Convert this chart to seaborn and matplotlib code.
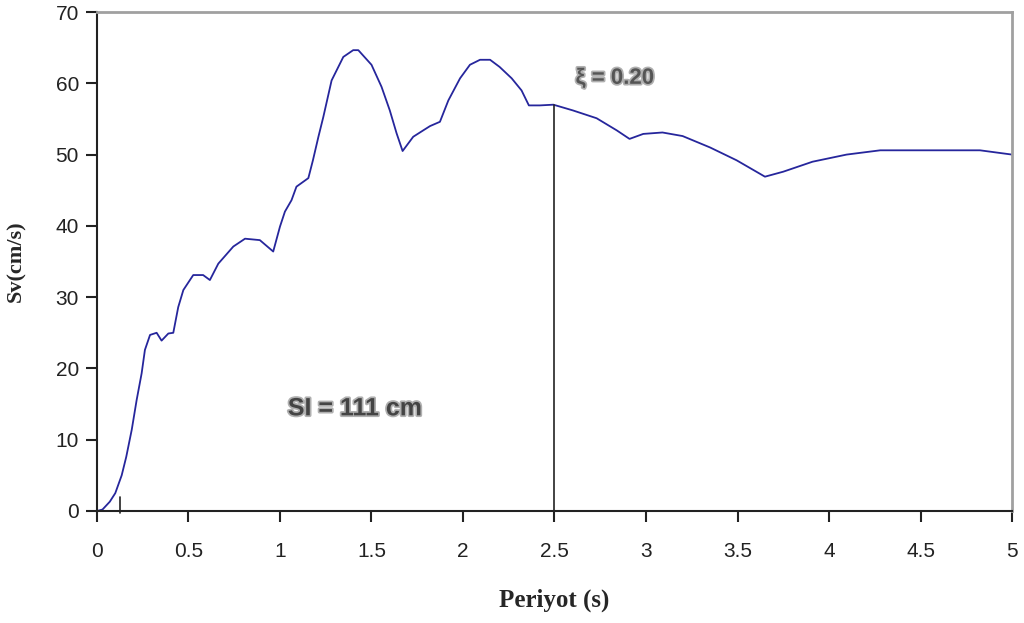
import matplotlib
matplotlib.use("Agg")
import matplotlib.pyplot as plt
import matplotlib.patheffects as pe
import seaborn as sns

# Response spectrum (period in s, Sv in cm/s)
period = [0.0, 0.03, 0.07, 0.10, 0.135, 0.16, 0.19, 0.217, 0.244, 0.262, 0.29,
          0.326, 0.353, 0.39, 0.417, 0.444, 0.472, 0.526, 0.58, 0.617, 0.663,
          0.745, 0.809, 0.89, 0.963, 1.0, 1.027, 1.063, 1.09, 1.155, 1.18,
          1.21, 1.237, 1.282, 1.346, 1.40, 1.428, 1.50, 1.555, 1.60, 1.637,
          1.67, 1.728, 1.783, 1.82, 1.874, 1.92, 1.984, 2.038, 2.093, 2.148,
          2.20, 2.266, 2.32, 2.36, 2.42, 2.494, 2.60, 2.73, 2.84, 2.91, 2.985,
          3.09, 3.20, 3.35, 3.495, 3.65, 3.75, 3.91, 4.096, 4.28, 4.55, 4.825,
          5.0]
sv = [0.0, 0.2, 1.3, 2.5, 5.0, 7.6, 11.4, 15.6, 19.3, 22.6, 24.7,
      25.0, 23.9, 24.9, 25.0, 28.6, 31.0, 33.1, 33.1, 32.4, 34.7,
      37.1, 38.2, 38.0, 36.4, 39.9, 42.0, 43.6, 45.5, 46.7, 49.2,
      52.5, 55.3, 60.4, 63.7, 64.65, 64.65, 62.6, 59.5, 56.2, 53.0,
      50.5, 52.5, 53.4, 54.0, 54.6, 57.6, 60.7, 62.6, 63.3, 63.3,
      62.3, 60.7, 59.0, 56.9, 56.9, 57.0, 56.2, 55.1, 53.4, 52.2, 52.9,
      53.1, 52.6, 51.0, 49.2, 46.9, 47.6, 49.0, 50.0, 50.6, 50.6, 50.6,
      50.0]

marker_period = 2.5
marker_sv = 57.0
small_period = 0.126
small_top = 2.0

x_ticks = [0, 0.5, 1, 1.5, 2, 2.5, 3, 3.5, 4, 4.5, 5]
x_labels = ["0", "0.5", "1", "1.5", "2", "2.5", "3", "3.5", "4", "4.5", "5"]
y_ticks = [0, 10, 20, 30, 40, 50, 60, 70]

sns.set_style("white")
plt.rcParams["font.family"] = ["Liberation Sans", "DejaVu Sans"]

fig = plt.figure(figsize=(10.24, 6.23), dpi=100)
ax = fig.add_axes([0.0947, 0.1798, 0.8936, 0.8009])

sns.lineplot(x=period, y=sv, ax=ax, color="#26269c", lw=1.3,
             estimator=None, sort=False)
ax.plot([marker_period, marker_period], [0, marker_sv], color="#222222", lw=1.2)
ax.plot([small_period, small_period], [-0.3, small_top], color="#222222", lw=1.2,
        clip_on=False)

ax.set_xlim(0, 5)
ax.set_ylim(0, 70)
ax.set_xticks(x_ticks)
ax.set_xticklabels(x_labels)
ax.set_yticks(y_ticks)
ax.tick_params(axis="both", direction="out", length=8, width=1.5,
               bottom=True, left=True, color="#222222", labelsize=15,
               labelcolor="#222222")
ax.tick_params(axis="x", pad=14)
ax.tick_params(axis="y", pad=5)

for side in ["left", "bottom"]:
    ax.spines[side].set_color("#222222")
    ax.spines[side].set_linewidth(1.5)
for side in ["top", "right"]:
    ax.spines[side].set_color("#a0a0a0")
    ax.spines[side].set_linewidth(2)

ax.set_xlabel("Periyot (s)", family=["Liberation Serif"], fontweight="bold",
              fontsize=18, labelpad=20)
ax.set_ylabel("Sv(cm/s)", family=["Liberation Serif"], fontweight="bold",
              fontsize=16)
ax.yaxis.set_label_coords(-0.077, 0.5)

shadow = [pe.withStroke(linewidth=2.5, foreground="#b0b0b0")]
ax.text(2.83, 60.7, "ξ = 0.20", ha="center", va="center", fontsize=16,
        fontweight="bold", color="#555555",
        family=["Liberation Sans Narrow", "Liberation Sans"], path_effects=shadow)
ax.text(1.41, 14.4, "SI = 111 cm", ha="center", va="center", fontsize=18,
        fontweight="bold", color="#444444",
        family=["Liberation Sans Narrow", "Liberation Sans"], path_effects=shadow)

fig.savefig("out.png", dpi=100)
plt.close(fig)
